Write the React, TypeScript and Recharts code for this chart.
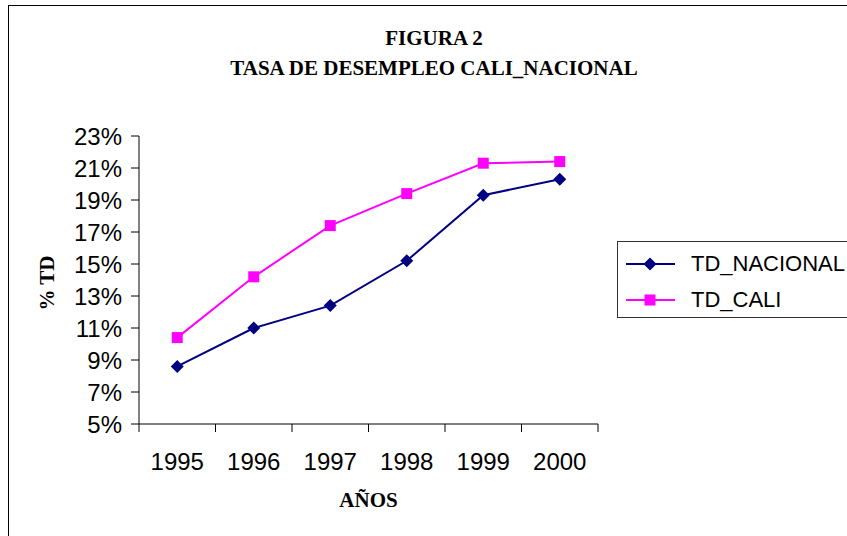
import React from "react";
import { LineChart, Line, XAxis, YAxis, Legend } from "recharts";

const years = ["1995", "1996", "1997", "1998", "1999", "2000"];
const tdNacional = [8.6, 11.0, 12.4, 15.2, 19.3, 20.3];
const tdCali = [10.4, 14.2, 17.4, 19.4, 21.3, 21.4];
const yTicks = [5, 7, 9, 11, 13, 15, 17, 19, 21, 23];
const seriesNames = ["TD_NACIONAL", "TD_CALI"];

const data = years.map((year, i) => ({
  year,
  TD_NACIONAL: tdNacional[i],
  TD_CALI: tdCali[i],
}));

const NAVY = "#000080";
const MAGENTA = "#FF00FF";

// layout
const W = 847;
const H = 536;
const Y_AXIS_W = 139;
const MARGIN_RIGHT = 249;
const PLOT_W = W - Y_AXIS_W - MARGIN_RIGHT;
const BAND = PLOT_W / years.length;

const sans = "Arial, 'Liberation Sans', sans-serif";
const serif = "'Times New Roman', 'Liberation Serif', serif";

const Diamond = ({ cx, cy, fill, r = 6.5 }: any) => (
  <polygon points={`${cx},${cy - r} ${cx + r},${cy} ${cx},${cy + r} ${cx - r},${cy}`} fill={fill} />
);

const Square = ({ cx, cy, fill, r = 5.5 }: any) => (
  <rect x={cx - r} y={cy - r} width={2 * r} height={2 * r} fill={fill} />
);

const markers: Record<string, any> = { TD_NACIONAL: Diamond, TD_CALI: Square };
const colors: Record<string, string> = { TD_NACIONAL: NAVY, TD_CALI: MAGENTA };

function YearTick({ x, y, payload, index }: any) {
  const half = BAND / 2;
  return (
    <g>
      <line x1={x - half} y1={y} x2={x - half} y2={y + 8} stroke="#000" />
      {index === years.length - 1 && <line x1={x + half} y1={y} x2={x + half} y2={y + 8} stroke="#000" />}
      <text x={x} y={y + 37} textAnchor="middle" dominantBaseline="central" fontFamily={sans} fontSize={24} fill="#000">
        {payload.value}
      </text>
    </g>
  );
}

function LegendBox() {
  return (
    <div
      style={{
        border: "1px solid #333",
        boxSizing: "border-box",
        height: 77,
        width: 300,
        paddingTop: 4,
        background: "#fff",
        fontFamily: sans,
        fontSize: 22,
        color: "#000",
      }}
    >
      {seriesNames.map((name) => {
        const M = markers[name];
        return (
          <div key={name} style={{ display: "flex", alignItems: "center", height: 36 }}>
            <svg width={57} height={20} style={{ marginLeft: 8 }}>
              <line x1={0} y1={10} x2={49} y2={10} stroke={colors[name]} strokeWidth={2} />
              <M cx={24} cy={10} fill={colors[name]} />
            </svg>
            <span style={{ marginLeft: 8, lineHeight: 1 }}>{name}</span>
          </div>
        );
      })}
    </div>
  );
}

export default function App() {
  return (
    <div style={{ position: "absolute", left: 0, top: 0, width: W, height: H, overflow: "hidden", background: "#fff" }}>
      <div
        style={{
          position: "absolute",
          left: 8,
          top: 5,
          width: 1000,
          height: 1000,
          border: "1.5px solid #000",
        }}
      />
      <div
        style={{
          position: "absolute",
          left: 0,
          width: 868,
          top: 23,
          textAlign: "center",
          fontFamily: serif,
          fontWeight: "bold",
          fontSize: 21,
          lineHeight: "30px",
          color: "#000",
        }}
      >
        <div>FIGURA 2</div>
        <div>TASA DE DESEMPLEO CALI_NACIONAL</div>
      </div>
      <LineChart width={W} height={H} data={data} margin={{ top: 136, right: MARGIN_RIGHT, bottom: 0, left: 0 }}>
        <XAxis
          dataKey="year"
          height={H - 424}
          padding={{ left: BAND / 2, right: BAND / 2 }}
          axisLine={{ stroke: "#000" }}
          tickLine={false}
          tickSize={0}
          tickMargin={0}
          tick={<YearTick />}
          interval={0}
          label={{
            content: ({ viewBox }: any) => (
              <text
                x={viewBox.x + viewBox.width / 2}
                y={viewBox.y + 76}
                textAnchor="middle"
                dominantBaseline="central"
                fontFamily={serif}
                fontWeight="bold"
                fontSize={21}
                fill="#000"
              >
                AÑOS
              </text>
            ),
          }}
        />
        <YAxis
          width={Y_AXIS_W}
          domain={[5, 23]}
          ticks={yTicks}
          interval={0}
          axisLine={{ stroke: "#000" }}
          tickLine={{ stroke: "#000" }}
          tickSize={8}
          tickMargin={9}
          tickFormatter={(v) => `${v}%`}
          tick={{ fontFamily: sans, fontSize: 24, fill: "#000" }}
          label={{
            content: ({ viewBox }: any) => {
              const cx = viewBox.x + 47;
              const cy = viewBox.y + viewBox.height / 2 + 3;
              return (
                <text
                  x={cx}
                  y={cy}
                  transform={`rotate(-90, ${cx}, ${cy})`}
                  textAnchor="middle"
                  dominantBaseline="central"
                  fontFamily={serif}
                  fontWeight="bold"
                  fontSize={21}
                  fill="#000"
                >
                  % TD
                </text>
              );
            },
          }}
        />
        <Legend
          layout="vertical"
          align="center"
          verticalAlign="middle"
          wrapperStyle={{ left: 617, top: 241, width: 300 }}
          content={<LegendBox />}
        />
        <Line
          type="linear"
          dataKey="TD_NACIONAL"
          name="TD_NACIONAL"
          stroke={NAVY}
          strokeWidth={2}
          isAnimationActive={false}
          dot={(p: any) => <Diamond key={`n${p.index}`} cx={p.cx} cy={p.cy} fill={NAVY} />}
          activeDot={false}
        />
        <Line
          type="linear"
          dataKey="TD_CALI"
          name="TD_CALI"
          stroke={MAGENTA}
          strokeWidth={2}
          isAnimationActive={false}
          dot={(p: any) => <Square key={`c${p.index}`} cx={p.cx} cy={p.cy} fill={MAGENTA} />}
          activeDot={false}
        />
      </LineChart>
    </div>
  );
}
